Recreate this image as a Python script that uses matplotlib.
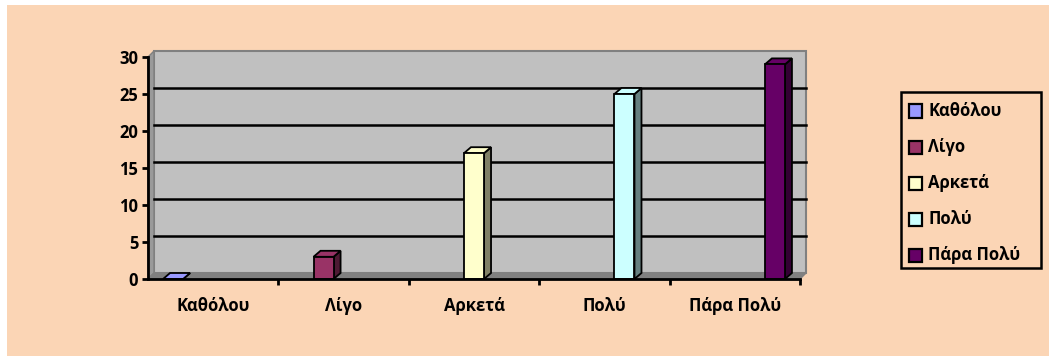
import matplotlib
matplotlib.use('Agg')
import matplotlib.pyplot as plt
from matplotlib.patches import Polygon, Rectangle
import matplotlib.colors as mcolors

categories = ['Καθόλου', 'Λίγο', 'Αρκετά', 'Πολύ', 'Πάρα Πολύ']
values = [0, 3, 17, 25, 29]
colors = ['#9999FF', '#993366', '#FFFFCC', '#CCFFFF', '#660066']
yticks = [0, 5, 10, 15, 20, 25, 30]

W, H = 1049, 356
bg = '#FBD5B5'

plt.rcParams['font.family'] = ['Open Sans', 'DejaVu Sans']
plt.rcParams['font.weight'] = 'bold'
fs = 12

fig = plt.figure(figsize=(W / 100, H / 100), dpi=100)
fig.patch.set_facecolor(bg)
# thin white margin on the top and left edges
fig.patches.append(Rectangle((0, 0), 7 / W, 1, transform=fig.transFigure,
                             facecolor='white', edgecolor='none'))
fig.patches.append(Rectangle((0, 1 - 5 / H), 1, 5 / H, transform=fig.transFigure,
                             facecolor='white', edgecolor='none'))


def fx(x):
    return x / W


def fy(y):
    return 1 - y / H


ax = fig.add_axes([fx(148), fy(279), 652 / W, 222 / H])
ax.set_xlim(0, 5)
ax.set_ylim(0, 30)
ax.patch.set_visible(False)

# one pixel in data units, used for the 3-D depth
px_x = 5 / 652
px_y = 30 / 222
dx, dy = 6 * px_x, 6 * px_y

# back wall, side wall and floor
ax.add_patch(Rectangle((dx, dy), 5, 30, facecolor='#C0C0C0', edgecolor='#808080',
                       lw=1.5, clip_on=False, zorder=0.5))
ax.add_patch(Polygon([(0, 0), (dx, dy), (dx, 30 + dy), (0, 30)], closed=True,
                     facecolor='#9A9A9A', edgecolor='#808080', lw=1, clip_on=False, zorder=0.6))
ax.add_patch(Polygon([(0, 0), (5, 0), (5 + dx, dy), (dx, dy)], closed=True,
                     facecolor='#808080', edgecolor='#808080', lw=1, clip_on=False, zorder=0.6))

for v in yticks[1:-1]:
    ax.plot([dx, 5 + dx], [v + dy, v + dy], color='black', lw=1.8, clip_on=False, zorder=1)

# bars, each series in its own slot of the cluster (gap width 150%)
bw = 1 / 6.5
bdx, bdy = 7 * px_x, 6 * px_y
for i, (v, c) in enumerate(zip(values, colors)):
    x0 = i + 0.5 + (i - 2) * bw - bw / 2
    side = [k * 0.5 for k in mcolors.to_rgb(c)]
    kw = dict(edgecolor='black', lw=1.3, clip_on=False, zorder=3, joinstyle='miter')
    ax.add_patch(Polygon([(x0 + bw, 0), (x0 + bw + bdx, bdy), (x0 + bw + bdx, v + bdy), (x0 + bw, v)],
                         closed=True, facecolor=side, **kw))
    ax.add_patch(Polygon([(x0, v), (x0 + bw, v), (x0 + bw + bdx, v + bdy), (x0 + bdx, v + bdy)],
                         closed=True, facecolor=c, **kw))
    if v > 0:
        ax.add_patch(Rectangle((x0, 0), bw, v, facecolor=c, **kw))

for s in ['top', 'right']:
    ax.spines[s].set_visible(False)
for s in ['left', 'bottom']:
    ax.spines[s].set_linewidth(2)
    ax.spines[s].set_zorder(4)

ax.set_yticks(yticks)
ax.set_yticklabels([str(t) for t in yticks], fontsize=fs, fontweight='bold')
ax.tick_params(axis='y', direction='out', length=4, width=2, pad=3)

ax.set_xticks([1, 2, 3, 4, 5])
ax.set_xticklabels([])
ax.tick_params(axis='x', which='major', direction='out', length=4, width=2)
ax.set_xticks([i + 0.5 for i in range(5)], minor=True)
ax.set_xticklabels(categories, minor=True, fontsize=fs, fontweight='bold')
ax.tick_params(axis='x', which='minor', length=0, pad=13)

# legend box
fig.patches.append(Rectangle((fx(901), fy(268)), 140 / W, 176 / H, transform=fig.transFigure,
                             facecolor=bg, edgecolor='black', lw=1.8, zorder=2))
for i, (lab, c) in enumerate(zip(categories, colors)):
    yc = 111 + 36 * i
    fig.patches.append(Rectangle((fx(909), fy(yc + 6.5)), 13 / W, 13 / H, transform=fig.transFigure,
                                 facecolor=c, edgecolor='black', lw=1.6, zorder=3))
    fig.text(fx(928), fy(yc), lab, fontsize=fs, fontweight='bold', va='center', ha='left', zorder=3)

fig.savefig('out.png', dpi=100)
